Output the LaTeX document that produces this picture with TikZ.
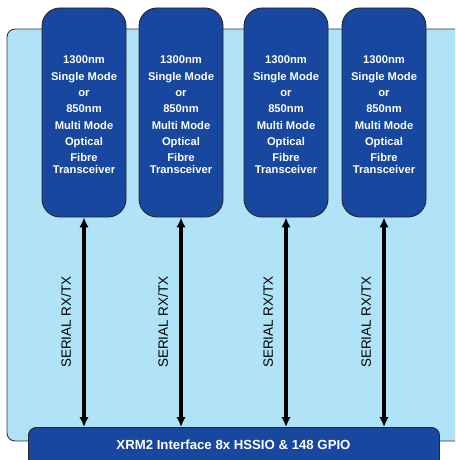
\documentclass[tikz,border=0pt]{standalone}
\usepackage{fontspec}
\setmainfont{Liberation Sans}
\usetikzlibrary{arrows.meta}
\definecolor{darkblue}{HTML}{17479E}
\definecolor{paleblue}{HTML}{B0E2F8}
\tikzset{
  xcvr/.style={draw=black!85,line width=0.9pt,fill=darkblue,rounded corners=18pt,
    minimum width=84pt,minimum height=209pt},
  xcvrtext/.style={text=white,align=center,font=\bfseries\fontsize{11.2}{16.3}\selectfont},
  link/.style={line width=3.6pt,{Latex[length=10pt,width=9.5pt]}-{Latex[length=10pt,width=9.5pt]}}
}
\begin{document}
\begin{tikzpicture}[x=1pt,y=-1pt,line join=round]
  \useasboundingbox (0,0) rectangle (455,460);
  \clip (0,0) rectangle (455,460);
  \draw[draw=black!80,line width=0.9pt,fill=paleblue,rounded corners=8pt] (7,29) rectangle (475,441);
  \node[draw=black!85,line width=0.9pt,fill=darkblue,rounded corners=8pt,minimum width=411pt,
    minimum height=50pt,anchor=north west] (xrm) at (28,427) {};
  \node[text=white,font=\bfseries\fontsize{13.2}{15}\selectfont] (xrmtext) at (233.5,445) {XRM2 Interface 8x HSSIO \& 148 GPIO};
  \foreach \i/\x in {1/84,2/181,3/286,4/384}{
    \node[xcvr] (t\i) at (\x,112.5) {};
    \node[xcvrtext] (t\i text) at (\x,115) {1300nm\\Single Mode\\or\\850nm\\Multi Mode\\Optical\\Fibre\\[-4pt]Transceiver};
    \draw[link] (t\i.south) -- (t\i.south |- xrm.north);
    \node[rotate=90,font=\fontsize{13.5}{16}\selectfont] (s\i) at (\x-18,322) {SERIAL RX/TX};
  }
\end{tikzpicture}
\end{document}
